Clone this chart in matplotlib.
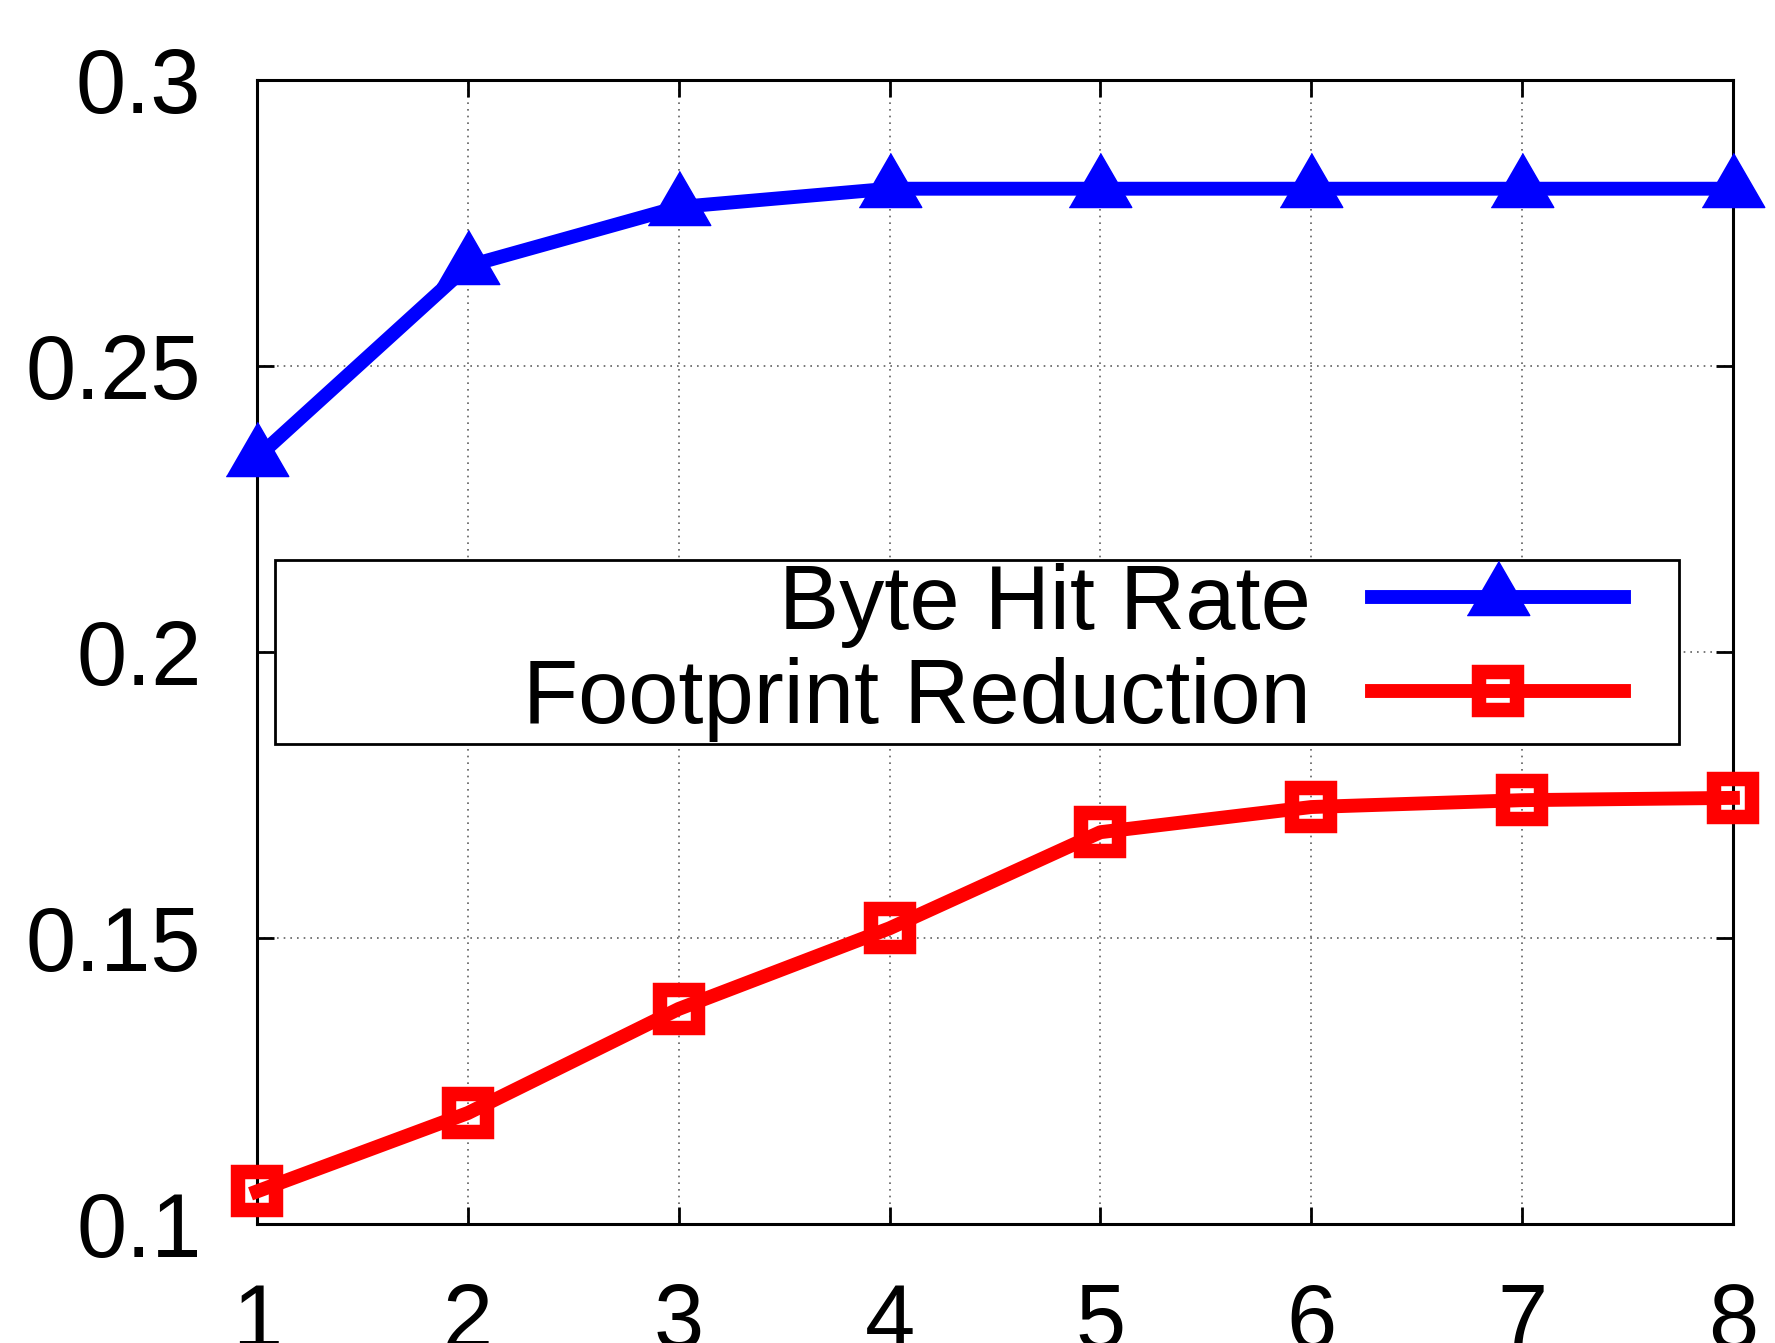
import matplotlib
matplotlib.use('Agg')
import matplotlib.pyplot as plt
from matplotlib.patches import Rectangle

# 데이터
x_vals = [1, 2, 3, 4, 5, 6, 7, 8]
byte_hit_rate = [0.234, 0.2675, 0.2778, 0.281, 0.281, 0.281, 0.281, 0.281]
footprint_reduction = [0.1057, 0.1194, 0.1376, 0.1517, 0.1685, 0.1729, 0.1741, 0.1745]
y_ticks = [0.1, 0.15, 0.2, 0.25, 0.3]
y_tick_labels = ['0.1', '0.15', '0.2', '0.25', '0.3']

plt.rcParams['font.family'] = ['Liberation Sans', 'DejaVu Sans']

fig = plt.figure(figsize=(17.75, 13.43), dpi=100)
ax = fig.add_axes([0.1448, 0.0886, 0.9763 - 0.1448, 0.9404 - 0.0886])

# 삼각형 마커 (정삼각형)
tri = [(-1, -0.577), (1, -0.577), (0, 1.155)]

ax.plot(x_vals, byte_hit_rate, color='#0000ff', lw=10, marker=tri, ms=52,
        label='Byte Hit Rate', clip_on=False, zorder=3)
ax.plot(x_vals, footprint_reduction, color='#ff0000', lw=10, marker='s', ms=27,
        mew=10.4, mfc='none', mec='#ff0000', label='Footprint Reduction',
        clip_on=False, zorder=3)

ax.set_xlim(1, 8)
ax.set_ylim(0.1, 0.3)
ax.set_xticks(x_vals)
ax.set_yticks(y_ticks)
ax.set_yticklabels(y_tick_labels)

ax.grid(True, color='#606060', linestyle=(0, (1, 3)), linewidth=1.2)
ax.tick_params(direction='in', length=12, width=2, labelsize=65, pad=40,
               top=True, right=True)
ax.tick_params(axis='x', pad=42)
for s in ax.spines.values():
    s.set_linewidth(2.2)

# 범례 박스
ax.add_patch(Rectangle((0.0122, 0.4196), 0.9634 - 0.0122, 0.5804 - 0.4196,
                       transform=ax.transAxes, facecolor='white', edgecolor='black',
                       lw=2, zorder=2.5))
ax.legend(loc='center right', bbox_to_anchor=(0.926, 0.5), frameon=False,
          markerfirst=False, fontsize=65, handlelength=2.79, handletextpad=0.675,
          borderpad=0, borderaxespad=0, labelspacing=0.1, numpoints=1)

fig.savefig('out.png', dpi=100)
